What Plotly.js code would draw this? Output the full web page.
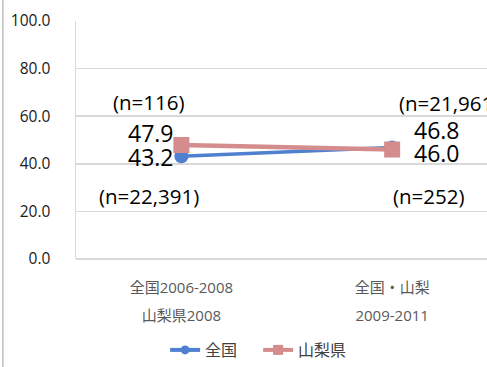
<!DOCTYPE html>
<html><head><meta charset="utf-8">
<script src="https://cdn.plot.ly/plotly-3.0.1.min.js"></script>
<style>html,body{margin:0;padding:0;background:#fff}#c{width:487px;height:367px}</style>
</head><body><div id="c"></div>
<script>
var categoriesLine1 = ["全国2006-2008", "全国・山梨"];
var categoriesLine2 = ["山梨県2008", "2009-2011"];
var seriesNames = ["全国", "山梨県"];
var zenkoku = [43.2, 46.8];
var yamanashi = [47.9, 46.0];
var zenkokuN = ["(n=22,391)", "(n=21,961)"];
var yamanashiN = ["(n=116)", "(n=252)"];
var yTicks = [0, 20, 40, 60, 80, 100];
var yTickText = ["0.0", "20.0", "40.0", "60.0", "80.0", "100.0"];

var F = 'Open Sans, "Noto Sans CJK JP", sans-serif';
var FJ = '"Noto Sans CJK JP", "Open Sans", sans-serif';
var BLUE = '#4F81D0', PINK = '#D48C8C';
var idx = [0, 1];
var traces = [
  {x: idx, y: zenkoku, name: seriesNames[0], type: 'scatter', mode: 'lines+markers', showlegend: false,
   line: {color: BLUE, width: 3.5}, marker: {symbol: 'circle', size: 14, color: BLUE}},
  {x: idx, y: yamanashi, name: seriesNames[1], type: 'scatter', mode: 'lines+markers', showlegend: false,
   line: {color: PINK, width: 4.5}, marker: {symbol: 'square', size: 16, color: PINK}},
  // legend entries (smaller symbols, as in the reference legend)
  {x: [null], y: [null], name: seriesNames[0], type: 'scatter', mode: 'lines+markers',
   line: {color: BLUE, width: 4}, marker: {symbol: 'circle', size: 9, color: BLUE}},
  {x: [null], y: [null], name: seriesNames[1], type: 'scatter', mode: 'lines+markers',
   line: {color: PINK, width: 4}, marker: {symbol: 'square', size: 10, color: PINK}}
];

var VF = {family: F, size: 23, color: '#000'};
var NF = {family: F, size: 20.5, color: '#000'};
var ann = [
  {x: 0, y: yamanashi[0], text: yamanashi[0].toFixed(1), xshift: -30, yshift: 12, font: VF},
  {x: 0, y: zenkoku[0], text: zenkoku[0].toFixed(1), xshift: -30, yshift: -1, font: VF},
  {x: 1, y: zenkoku[1], text: zenkoku[1].toFixed(1), xshift: 45, yshift: 18, font: VF},
  {x: 1, y: yamanashi[1], text: yamanashi[1].toFixed(1), xshift: 45, yshift: -3, font: VF},
  {x: 0, y: yamanashi[0], text: yamanashiN[0], xshift: -32, yshift: 43, font: NF},
  {x: 0, y: zenkoku[0], text: zenkokuN[0], xshift: -32, yshift: -40, font: NF},
  {x: 1, y: zenkoku[1], text: zenkokuN[1], xanchor: 'left', xshift: 5, yshift: 45, font: NF},
  {x: 1, y: yamanashi[1], text: yamanashiN[1], xshift: 37, yshift: -46, font: NF}
].map(function (a) { a.xref = 'x'; a.yref = 'y'; a.showarrow = false; return a; });

var XF = {family: F, size: 15, color: '#595959'};
var layout = {
  width: 487, height: 367,
  margin: {l: 76, r: 0, t: 21, b: 108},
  paper_bgcolor: '#fff', plot_bgcolor: '#fff',
  showlegend: true,
  legend: {orientation: 'h', xref: 'container', yref: 'container', x: 0.53, xanchor: 'center', y: 0.0, yanchor: 'bottom',
           font: {family: FJ, size: 16, color: '#404040'}, itemwidth: 30, entrywidth: 48},
  xaxis: {range: [-0.5, 1.45], tickvals: idx, ticktext: categoriesLine1, showgrid: false, zeroline: false,
          showline: false, ticks: '', ticklabelstandoff: 18, tickfont: XF, fixedrange: true},
  xaxis2: {range: [-0.5, 1.45], overlaying: 'x', anchor: 'y', side: 'bottom', tickvals: idx, ticktext: categoriesLine2,
           showgrid: false, zeroline: false, showline: false, ticks: '', ticklabelstandoff: 46, tickfont: XF, fixedrange: true},
  yaxis: {range: [0, 100], tickvals: yTicks, ticktext: yTickText, showgrid: true, gridcolor: '#D9D9D9', gridwidth: 1.5,
          zeroline: true, zerolinecolor: '#D9D9D9', zerolinewidth: 2, showline: true, linecolor: '#D9D9D9', linewidth: 1.5,
          ticks: '', ticklabelstandoff: 21, tickfont: {family: F, size: 15.5, color: '#1a1a1a'}, fixedrange: true},
  annotations: ann,
  shapes: [{type: 'line', xref: 'paper', yref: 'paper', x0: -0.178, x1: -0.178, y0: -0.5, y1: 1.2, line: {color: '#BFBFBF', width: 1.5}}]
};
// invisible trace on xaxis2 so that the second label row is rendered
traces.push({x: [null], y: [null], xaxis: 'x2', yaxis: 'y', type: 'scatter', mode: 'markers', showlegend: false, hoverinfo: 'skip'});
Plotly.newPlot('c', traces, layout, {displayModeBar: false, staticPlot: true});
</script></body></html>
